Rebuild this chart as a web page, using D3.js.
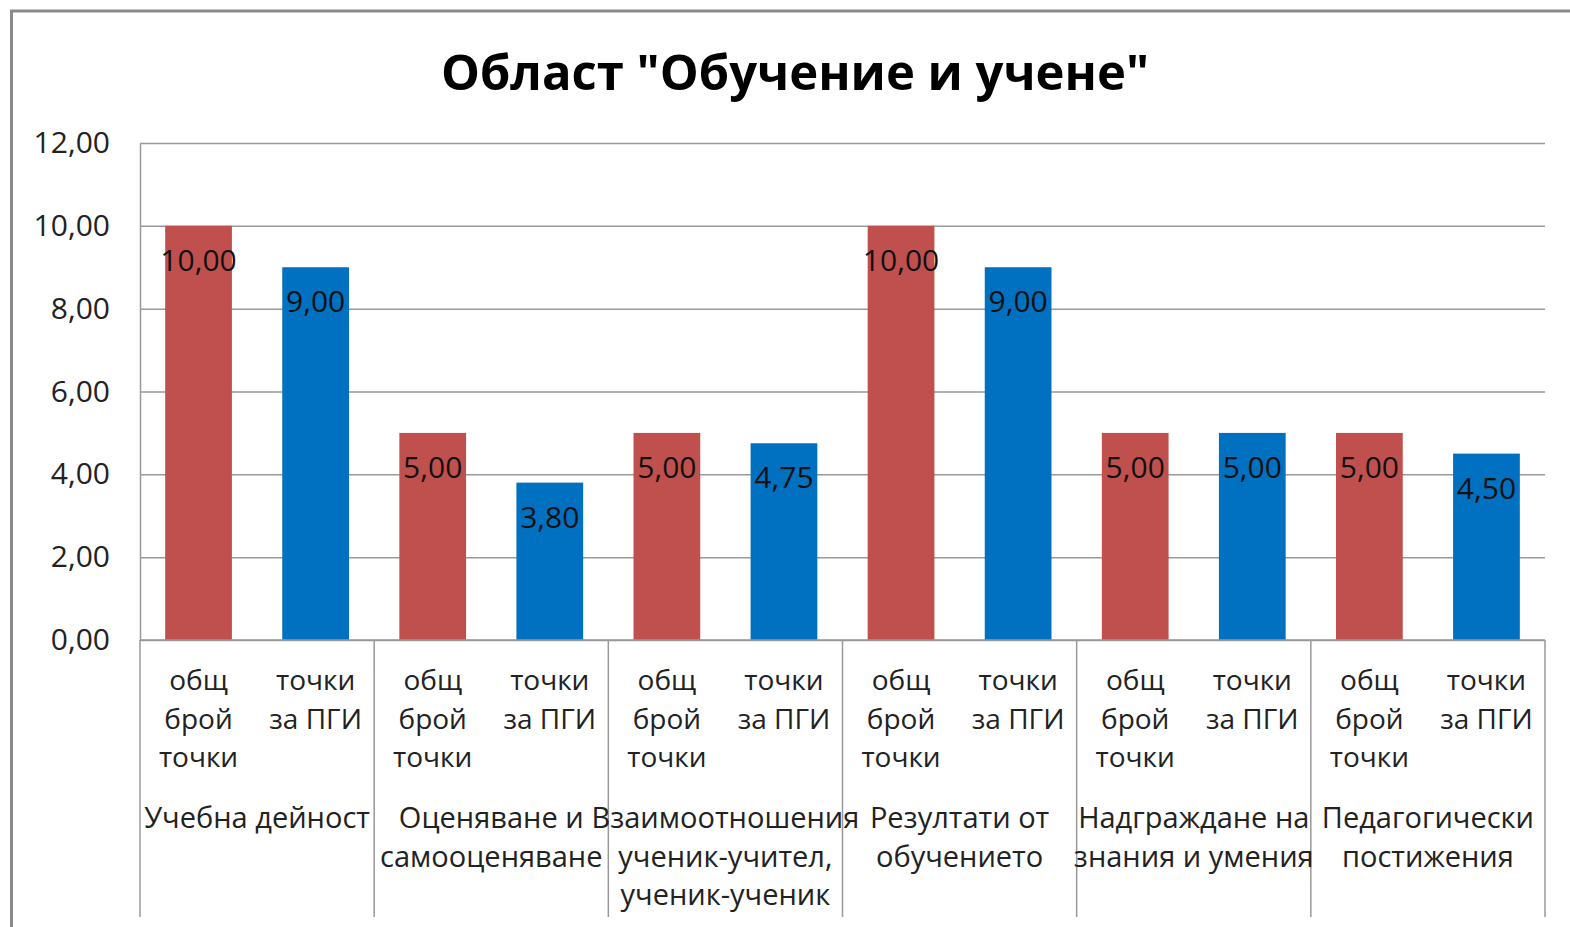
<!DOCTYPE html>
<html><head><meta charset="utf-8">
<script src="https://cdn.jsdelivr.net/npm/d3@7"></script>
<style>
body{margin:0;background:#fff;}
svg{display:block;font-family:"Open Sans","Noto Sans",sans-serif;}
</style></head>
<body>
<svg id="c" width="1570" height="927"></svg>
<script>
const title = 'Област "Обучение и учене"';
const groups = [
  ["Учебна дейност"],
  ["Оценяване и", "самооценяване"],
  ["Взаимоотношения", "ученик-учител,", "ученик-ученик"],
  ["Резултати от", "обучението"],
  ["Надграждане на", "знания и умения"],
  ["Педагогически", "постижения"]
];
const seriesNames = [["общ", "брой", "точки"], ["точки", "за ПГИ"]];
const totalPoints = [10, 5, 5, 10, 5, 5];
const pgiPoints = [9, 3.8, 4.75, 9, 5, 4.5];
const yTicks = [0, 2, 4, 6, 8, 10, 12];
const colors = ["#C0504D", "#0070C0"];

const svg = d3.select("#c");
const L = 140, R = 1545, T = 143, B = 640;

// outer frame
svg.append("path").attr("d", "M11.5,927 V11 H1570").attr("fill", "none")
  .attr("stroke", "#8a8a8a").attr("stroke-width", 3);

svg.append("text").attr("x", 795).attr("y", 90).attr("text-anchor", "middle")
  .attr("font-size", 49).attr("font-weight", "bold").attr("fill", "#000").text(title);

const bars = [];
groups.forEach((g, i) => {
  bars.push({g: i, s: 0, v: totalPoints[i]});
  bars.push({g: i, s: 1, v: pgiPoints[i]});
});

const x = d3.scaleBand().domain(d3.range(bars.length)).range([L, R]).paddingInner(0.43).paddingOuter(0.215);
const y = d3.scaleLinear().domain([0, 12]).range([B, T]);
const fmt = v => d3.format(".2f")(v).replace(".", ",");

// gridlines
svg.append("g").attr("transform", `translate(${L},0)`)
  .call(d3.axisLeft(y).tickValues(yTicks).tickSize(-(R - L)).tickFormat(""))
  .call(g => g.select(".domain").remove())
  .call(g => g.selectAll("line").attr("stroke", "#999").attr("stroke-width", 1.5));

// y axis labels
svg.append("g").attr("transform", `translate(${L},0)`)
  .call(d3.axisLeft(y).tickValues(yTicks).tickSize(0).tickPadding(30).tickFormat(fmt))
  .call(g => g.select(".domain").attr("stroke", "#999").attr("stroke-width", 1.5))
  .call(g => g.selectAll("text").attr("font-size", 30).attr("fill", "#222")
    .attr("font-family", "'Open Sans',sans-serif"));

// bars
svg.append("g").selectAll("rect").data(bars).join("rect")
  .attr("x", (d, i) => x(i)).attr("width", x.bandwidth())
  .attr("y", d => y(d.v)).attr("height", d => B - y(d.v))
  .attr("fill", d => colors[d.s]);

// data labels
svg.append("g").selectAll("text").data(bars).join("text")
  .attr("x", (d, i) => x(i) + x.bandwidth() / 2).attr("y", d => y(d.v) + 45)
  .attr("text-anchor", "middle").attr("font-size", 30).attr("fill", "#111").text(d => fmt(d.v));

// category axis: separators
const step = x.step();
const sepG = svg.append("g");
d3.range(groups.length + 1).forEach(k => {
  const xx = L + k * 2 * step;
  sepG.append("line").attr("x1", xx).attr("x2", xx).attr("y1", B).attr("y2", 917)
    .attr("stroke", "#999").attr("stroke-width", 1.5);
});
svg.append("line").attr("x1", L).attr("x2", R).attr("y1", B).attr("y2", B)
  .attr("stroke", "#999").attr("stroke-width", 1.5);

// series labels
const lab = svg.append("g").attr("fill", "#222").attr("text-anchor", "middle");
bars.forEach((d, i) => {
  seriesNames[d.s].forEach((ln, j) => {
    lab.append("text").attr("font-size", 28).attr("x", x(i) + x.bandwidth() / 2).attr("y", 690 + j * 38.5).text(ln);
  });
});
// group labels
groups.forEach((g, i) => {
  const cx = L + (i * 2 + 1) * step;
  g.forEach((ln, j) => {
    lab.append("text").attr("font-size", 29).attr("x", cx).attr("y", 828 + j * 38.5).text(ln);
  });
});
</script>
</body></html>
